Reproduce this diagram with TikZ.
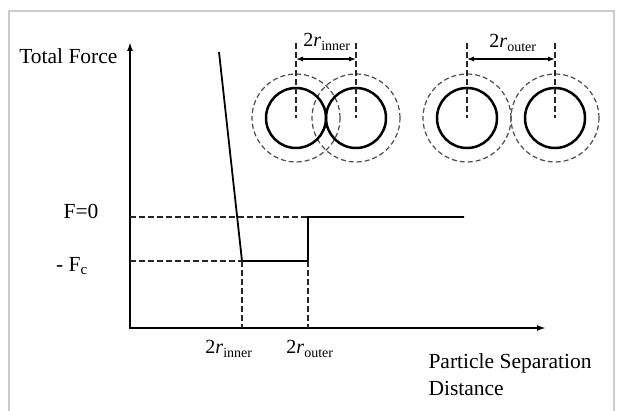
\documentclass[tikz,border=0pt]{standalone}
\usepackage{fontspec}
\setmainfont{Liberation Serif}
\usetikzlibrary{positioning, arrows.meta}

\begin{document}
\begin{tikzpicture}[x=1pt, y=-1pt, font=\fontsize{21.5}{27}\selectfont,
  axis/.style={line width=2.2pt, {Latex[length=9pt,width=6pt]}-{Latex[length=9pt,width=6pt]}},
  curve/.style={line width=1.8pt},
  guide/.style={line width=1.1pt, dash pattern=on 6pt off 3pt, black!85},
  grain/.style={circle, draw, line width=2.5pt, minimum size=60pt, inner sep=0pt},
  shell/.style={circle, draw, black!70, line width=1.2pt, dash pattern=on 5pt off 3pt, minimum size=88pt, inner sep=0pt},
  gap/.style={line width=1.1pt, {Latex[length=7pt,width=5pt]}-{Latex[length=7pt,width=5pt]}},
  sub/.style={font=\fontsize{20}{24}\selectfont}]
\useasboundingbox (0,0) rectangle (617,411);
\draw[black!20, line width=2pt] (9,411) -- (9,11) -- (614,11) -- (614,411);

% axes
\coordinate (O) at (130,328);
\coordinate (ytop) at (130,42);
\coordinate (xend) at (546,328);
\draw[axis] (ytop) -- (O) -- (xend);

% force curve
\coordinate (c0) at (219,52);
\coordinate (ci) at (242,261);
\coordinate (co) at (308,261);
\coordinate (cz) at (308,217);
\coordinate (cend) at (464,217);
\draw[curve] (c0) -- (ci) -- (co) -- (cz) -- (cend);

% guide lines
\coordinate (f0) at (130,217);
\coordinate (fc) at (130,261);
\coordinate (xi) at (242,328);
\coordinate (xo) at (308,328);
\draw[guide] (f0) -- (cz);
\draw[guide] (fc) -- (ci);
\draw[guide] (ci) -- (xi);
\draw[guide] (co) -- (xo);

\node[anchor=east] (ylabel) at (121,56) {Total Force};
\node (fzero) at (81,211) {F=0};
\node (fneg) at (72,266) {- F\textsubscript{c}};
\node[sub] (rinner) at (229,349) {2\textit{r}\textsubscript{inner}};
\node[sub] (router) at (310,349) {2\textit{r}\textsubscript{outer}};
\node[anchor=west, align=left] (xlabel) at (425,375) {Particle Separation\\Distance};

% particles, inner contact
\node[shell] (s1) at (296,118) {};
\node[shell] (s2) at (356,118) {};
\node[grain] (p1) at (296,118) {};
\node[grain] (p2) at (356,118) {};
\coordinate (t1) at (296,43);
\coordinate (t2) at (356,43);
\draw[guide] (t1) -- (p1.center);
\draw[guide] (t2) -- (p2.center);
\coordinate (a1) at (296,59);
\coordinate (a2) at (356,59);
\draw[gap] (a1) -- (a2);
\node[sub] (dinner) at (327,42) {2\textit{r}\textsubscript{inner}};

% particles, outer contact
\node[shell] (s3) at (467,118) {};
\node[shell] (s4) at (555,118) {};
\node[grain] (p3) at (467,118) {};
\node[grain] (p4) at (555,118) {};
\coordinate (t3) at (467,43);
\coordinate (t4) at (555,43);
\draw[guide] (t3) -- (p3.center);
\draw[guide] (t4) -- (p4.center);
\coordinate (a3) at (467,59);
\coordinate (a4) at (555,59);
\draw[gap] (a3) -- (a4);
\node[sub] (douter) at (513,43) {2\textit{r}\textsubscript{outer}};
\end{tikzpicture}
\end{document}
